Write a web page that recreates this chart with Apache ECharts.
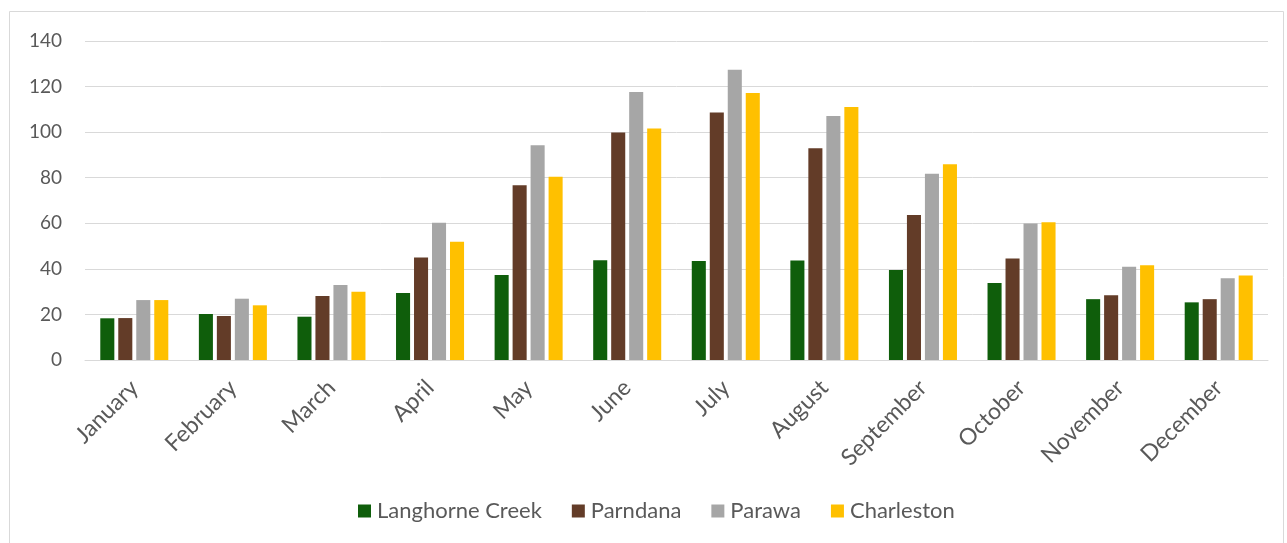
<!DOCTYPE html>
<html><head><meta charset="utf-8">
<script src="https://cdn.jsdelivr.net/npm/echarts@6/dist/echarts.min.js"></script>
<style>html,body{margin:0;padding:0;background:#fff;}#c{width:1287px;height:543px;}</style>
</head><body><div id="c"></div>
<script>
const months = ['January','February','March','April','May','June','July','August','September','October','November','December'];
const yTicks = [0,20,40,60,80,100,120,140];
const langhorneCreek = [18.3,20.2,19.0,29.4,37.3,43.8,43.4,43.7,39.5,33.8,26.7,25.3];
const parndana = [18.4,19.3,28.1,45.0,76.7,99.8,108.6,92.9,63.6,44.6,28.4,26.7];
const parawa = [26.3,26.9,32.9,60.2,94.3,117.6,127.4,107.1,81.7,59.9,40.9,35.9];
const charleston = [26.3,24.0,30.0,51.9,80.4,101.6,117.2,111.0,85.9,60.4,41.6,37.1];
const seriesNames = ['Langhorne Creek','Parndana','Parawa','Charleston'];
const colors = ['#0F5E0B','#633C28','#A6A6A6','#FFC000'];
const seriesData = [langhorneCreek, parndana, parawa, charleston];

const font = 'Lato, "Liberation Sans", sans-serif';
const chart = echarts.init(document.getElementById('c'));
chart.setOption({
  animation:false,
  graphic:[{type:'rect',shape:{x:9.5,y:11.5,width:1274,height:540},style:{fill:null,stroke:'#D9D9D9',lineWidth:1}}],
  grid:{left:85,right:19,top:41,bottom:183},
  legend:{
    top:500, left:358, padding:0,
    itemWidth:13,itemHeight:13,itemGap:30,
    icon:'rect',
    textStyle:{color:'#595959',fontSize:22,lineHeight:22,fontFamily:font,padding:[0,0,0,1]},
    data:seriesNames
  },
  xAxis:{
    type:'category', data:months,
    axisLine:{lineStyle:{color:'#D9D9D9',width:1}},
    axisTick:{show:false},
    axisLabel:{rotate:45,color:'#595959',fontSize:23,fontFamily:font,margin:24,interval:0}
  },
  yAxis:{
    type:'value',min:yTicks[0],max:yTicks[yTicks.length-1],interval:20,
    axisLine:{show:false},axisTick:{show:false},
    splitLine:{lineStyle:{color:'#D9D9D9',width:1}},
    axisLabel:{color:'#595959',fontSize:19,fontFamily:font,margin:23}
  },
  series: seriesData.map((d,i)=>({
    name:seriesNames[i],type:'bar',data:d,
    itemStyle:{color:colors[i]},
    barGap:'28%',barCategoryGap:'31%'
  }))
});
</script></body></html>
